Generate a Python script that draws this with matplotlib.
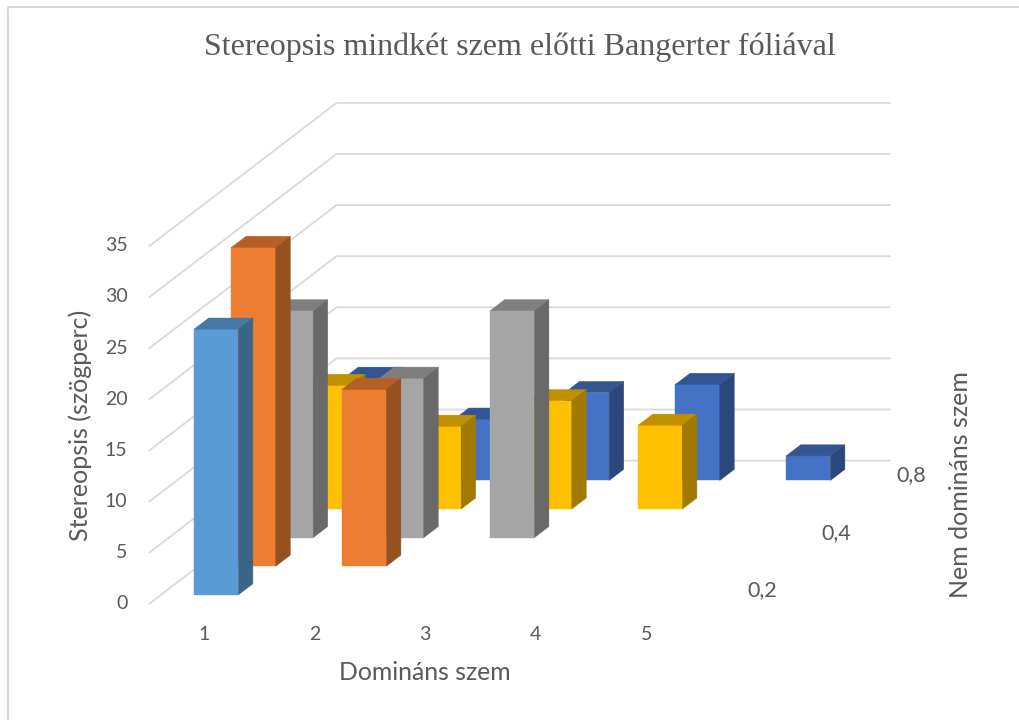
from matplotlib import pyplot as plt

title = 'Stereopsis mindkét szem előtti Bangerter fóliával'
x_title = 'Domináns szem'
y_title = 'Stereopsis (szögperc)'
z_title = 'Nem domináns szem'

columns = [1, 2, 3, 4, 5]
y_ticks = [0, 5, 10, 15, 20, 25, 30, 35]
depth_ticks = {1: '0,2', 3: '0,4', 5: '0,8'}

# one list per row, front row first
row1_values = [26.0]
row2_values = [31.2, 17.3]
row3_values = [22.2, 15.6, 22.2]
row4_values = [12.1, 8.1, 10.6, 8.2]
row5_values = [10.0, 6.0, 8.6, 9.4, 2.4]
rows = [row1_values, row2_values, row3_values, row4_values, row5_values]

# front, top, side
row_colors = [
    ('#5B9BD5', '#4879A6', '#3A6587'),
    ('#ED7D31', '#B65F25', '#97501F'),
    ('#A5A5A5', '#7F7F7F', '#696969'),
    ('#FFC000', '#BF9000', '#A37A00'),
    ('#4472C4', '#335593', '#2B487D'),
]

BAR_WIDTH = 0.4
BAR_DEPTH = 0.39
TEXT_COLOR = '#595959'
GRID_COLOR = '#D9D9D9'

plt.rcParams['font.family'] = ['Lato', 'DejaVu Sans']


# oblique projection, same as the excel 3d view: column, row, value to pixels
def project(col, row, value=0.0):
    x = 149.5 + (col - 0.5) * 110.6 + (row - 0.5) * 37.4
    y = 603.6 - (row - 0.5) * 28.6 - value * 10.22
    return x, y


def draw_bar(ax, col, row, value, colors):
    left, right = col - BAR_WIDTH / 2, col + BAR_WIDTH / 2
    front, back = row - BAR_DEPTH / 2, row + BAR_DEPTH / 2
    faces = [
        ([(left, front, 0), (right, front, 0), (right, front, value), (left, front, value)], colors[0]),
        ([(left, front, value), (right, front, value), (right, back, value), (left, back, value)], colors[1]),
        ([(right, front, 0), (right, back, 0), (right, back, value), (right, front, value)], colors[2]),
    ]
    for corners, color in faces:
        points = [project(*corner) for corner in corners]
        ax.fill([p[0] for p in points], [p[1] for p in points], color=color, lw=0.3, zorder=3)


def draw_grid(ax):
    for tick in y_ticks:
        start = project(0.5, 0.5, tick)
        corner = project(0.5, 5.5, tick)
        end = project(5.5, 5.5, tick)
        ax.plot([start[0], corner[0], end[0]], [start[1], corner[1], end[1]],
                color=GRID_COLOR, lw=1.3, zorder=1, solid_joinstyle='miter')
        ax.text(start[0] - 22, start[1], str(tick), ha='right', va='center',
                fontsize=14, color=TEXT_COLOR)


fig = plt.figure(figsize=(10.19, 7.2), dpi=100)
ax = fig.add_axes([0, 0, 1, 1])
ax.set_xlim(0, 1019)
ax.set_ylim(720, 0)
ax.axis('off')

# chart frame, only left and top are visible in the picture
ax.plot([8, 8, 1019], [720, 7, 7], color=GRID_COLOR, lw=1.5, zorder=1)

draw_grid(ax)

# back row first so the front rows cover it
for row_index in range(len(rows), 0, -1):
    for col_index, value in enumerate(rows[row_index - 1]):
        draw_bar(ax, columns[col_index], row_index, value, row_colors[row_index - 1])

for col in columns:
    x, y = project(col, 0.5)
    ax.text(x - 1, y + 30.5, str(col), ha='center', va='center', fontsize=14, color=TEXT_COLOR)

for row, label in depth_ticks.items():
    x, y = project(5.5, row)
    ax.text(x + 40.5, y + 0.5, label, ha='center', va='center', fontsize=15.5, color=TEXT_COLOR)

ax.text(520, 47, title, ha='center', va='center', fontsize=23, color=TEXT_COLOR,
        family=['Liberation Serif', 'DejaVu Serif'])
ax.text(424.5, 673, x_title, ha='center', va='center', fontsize=17.8, color=TEXT_COLOR)
ax.text(80, 425, y_title, ha='center', va='center', rotation=90, fontsize=18, color=TEXT_COLOR)
ax.text(961, 485, z_title, ha='center', va='center', rotation=90, fontsize=18, color=TEXT_COLOR)

plt.savefig('out.png', dpi=100)
